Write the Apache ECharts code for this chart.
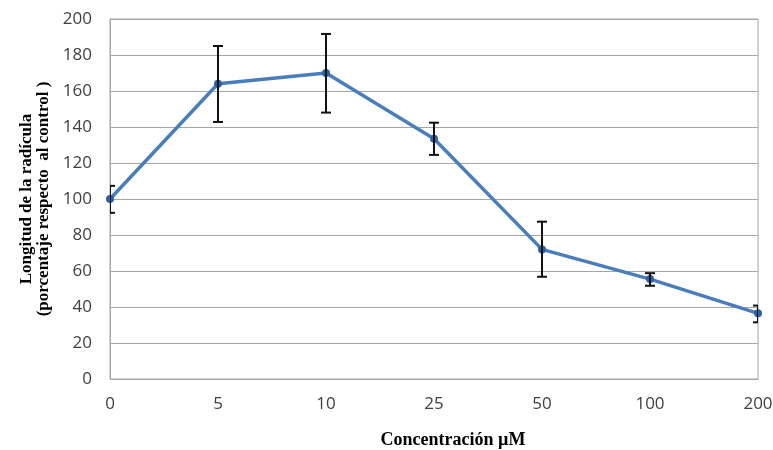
<!DOCTYPE html>
<html>
<head>
<meta charset="utf-8">
<script src="https://cdn.jsdelivr.net/npm/echarts@6/dist/echarts.min.js"></script>
<style>
  html, body { margin: 0; padding: 0; background: #fff; }
  #chart { width: 773px; height: 450px; }
</style>
</head>
<body>
<div id="chart"></div>
<script>
// concentraciones (µM) y longitud relativa de la radícula
const concentraciones = ['0', '5', '10', '25', '50', '100', '200'];
const longitud = [100, 164, 170, 133.5, 72, 55.5, 36.5];
const errorSup = [107.3, 185, 191.7, 142.4, 87.4, 58.8, 40.8];
const errorInf = [92.3, 142.8, 148, 124.5, 56.8, 51.8, 31.5];

const chart = echarts.init(document.getElementById('chart'));

const barras = concentraciones.map((c, i) => [i, errorInf[i], errorSup[i]]);

const option = {
    animation: false,
    grid: {
        left: 110, right: 15, top: 19, bottom: 71,
        outerBoundsMode: 'none',
        show: true, borderColor: '#a6a6a6', borderWidth: 1
    },
    xAxis: {
        type: 'category',
        data: concentraciones,
        boundaryGap: false,
        name: 'Concentración µM',
        nameLocation: 'middle',
        nameGap: 52,
        nameTextStyle: {
            fontFamily: 'Liberation Serif', fontWeight: 'bold', fontSize: 18, color: '#000',
            padding: [0, 0, 0, 38]
        },
        axisLine: { lineStyle: { color: '#a6a6a6' } },
        axisTick: { show: false },
        axisLabel: { fontFamily: 'Open Sans', fontSize: 17, color: '#404040', margin: 17 },
        splitLine: { show: false }
    },
    yAxis: {
        type: 'value',
        min: 0, max: 200, interval: 20,
        name: 'Longitud de la radícula\n(porcentaje respecto  al control )',
        nameLocation: 'middle',
        nameGap: 56,
        nameTextStyle: { fontFamily: 'Liberation Serif', fontWeight: 'bold', fontSize: 17, color: '#000', lineHeight: 17 },
        axisLine: { show: true, lineStyle: { color: '#a6a6a6' } },
        axisTick: { show: false },
        axisLabel: { fontFamily: 'Open Sans', fontSize: 17, color: '#404040', margin: 18 },
        splitLine: { lineStyle: { color: '#a6a6a6', width: 1 } }
    },
    series: [
        {
            type: 'line',
            data: longitud,
            symbol: 'circle',
            symbolSize: 8,
            lineStyle: { color: '#4a7ebb', width: 3.5 },
            itemStyle: { color: '#2f62a3' },
            z: 2
        },
        {
            type: 'custom',
            data: barras,
            clip: true,
            z: 3,
            renderItem: (params, api) => {
                const x = api.coord([api.value(0), 0])[0];
                const lo = api.coord([api.value(0), api.value(1)])[1];
                const hi = api.coord([api.value(0), api.value(2)])[1];
                const w = 5;
                const style = { stroke: '#111', lineWidth: 2, fill: null };
                return {
                    type: 'group',
                    children: [
                        { type: 'line', shape: { x1: x, y1: hi, x2: x, y2: lo }, style },
                        { type: 'line', shape: { x1: x - w, y1: hi, x2: x + w, y2: hi }, style },
                        { type: 'line', shape: { x1: x - w, y1: lo, x2: x + w, y2: lo }, style }
                    ]
                };
            }
        }
    ]
};

chart.setOption(option);
</script>
</body>
</html>
